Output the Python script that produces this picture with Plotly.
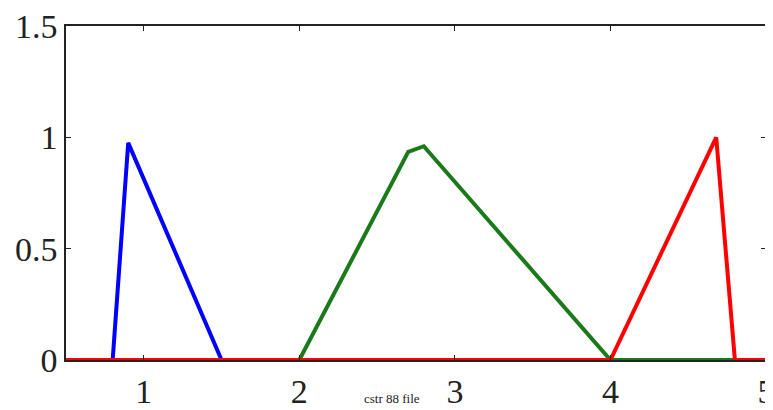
import plotly.graph_objects as go

# three triangular pulses, each series spans the full x range
x_blue = [0.5, 0.8, 0.9, 1.5, 5.0]
y_blue = [0, 0, 0.975, 0, 0]

x_green = [0.5, 2.0, 2.7, 2.8, 4.0, 5.0]
y_green = [0, 0, 0.935, 0.96, 0, 0]

x_red = [0.5, 4.0, 4.68, 4.8, 5.0]
y_red = [0, 0, 1.0, 0, 0]

x_ticks = [1, 2, 3, 4, 5]
y_ticks = [0, 0.5, 1, 1.5]
y_tick_labels = ['0', '0.5', '1', '1.5']

fig = go.Figure()

fig.add_trace(go.Scatter(x=x_blue, y=y_blue, mode='lines',
                         line=dict(color='#0000ff', width=4), name='blue'))
fig.add_trace(go.Scatter(x=x_green, y=y_green, mode='lines',
                         line=dict(color='#1a7a1a', width=4), name='green'))
fig.add_trace(go.Scatter(x=x_red, y=y_red, mode='lines',
                         line=dict(color='#ff0000', width=4), name='red'))

axis_style = dict(
    showgrid=False, zeroline=False, showline=True, linecolor='#222',
    linewidth=1.5, mirror='ticks', ticks='inside', ticklen=5,
    tickcolor='#222', automargin=False, ticklabeloverflow='allow',
    tickfont=dict(family='Liberation Serif', size=34, color='#222'),
)

fig.update_xaxes(range=[0.5, 5], tickvals=x_ticks, **axis_style)
fig.update_yaxes(range=[0, 1.5], tickvals=y_ticks, ticktext=y_tick_labels, **axis_style)

fig.add_annotation(text='cstr 88 file', xref='paper', yref='paper', x=0.465, y=-0.088,
                   yanchor='top', showarrow=False,
                   font=dict(family='Liberation Serif', size=13, color='#222'))

# page body has an 8px margin, so the figure is sized to fit the window
fig.update_layout(
    width=765, height=402,
    margin=dict(l=58, r=7, t=18, b=50),
    plot_bgcolor='white', paper_bgcolor='white',
    showlegend=False,
)

fig.write_html("out.html")
